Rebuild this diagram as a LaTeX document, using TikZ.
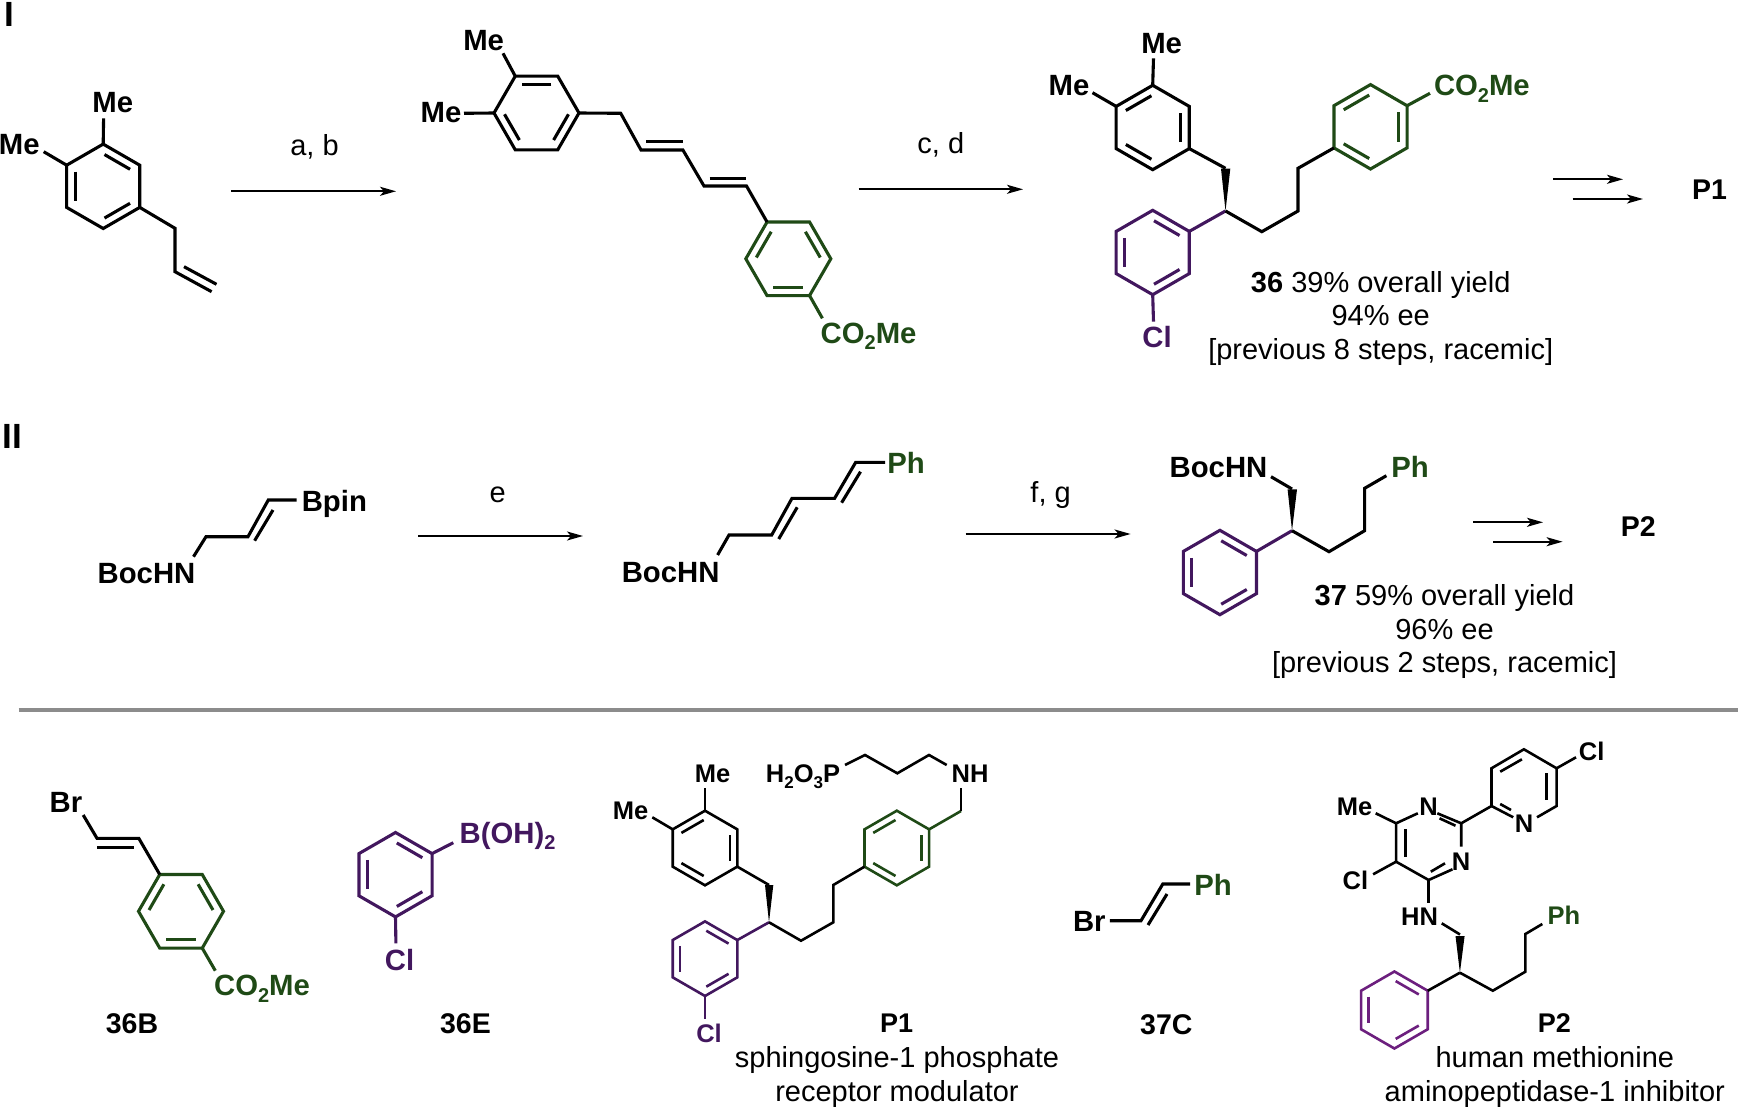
\documentclass[tikz,border=0pt]{standalone}
\usepackage{fontspec}
\setmainfont{Liberation Sans}
\usetikzlibrary{calc,arrows.meta}
\definecolor{leaf}{HTML}{1F4A16}
\definecolor{plum}{HTML}{42175E}
\definecolor{orchid}{HTML}{6C1F7E}
\tikzset{
  bond/.style = {line width = 3.1pt, line join = miter},
  thin bond/.style = {bond, line width = 2.6pt},
  rxn/.style = {line width = 1.9pt, -{Stealth[length = 16pt, width = 9pt, inset = 4pt]}},
  atom/.style = {inner sep = 0pt, font = \fontsize{29.3}{30}\selectfont\bfseries},
  small atom/.style = {inner sep = 0pt, font = \fontsize{25.5}{27}\selectfont\bfseries},
  cond/.style = {inner sep = 0pt, font = \fontsize{29}{33.4}\selectfont, align = center},
  tag/.style = {inner sep = 0pt, font = \fontsize{28.5}{30}\selectfont\bfseries}
}
\newcommand{\subnum}[2]{\raisebox{-.22em}{\fontsize{#1}{#1}\selectfont #2}}
% name, x, y, radius, start angle, bond style, double bonds
\newcommand{\hexring}[7]{
  \coordinate (#1-c) at (#2,#3);
  \foreach \i in {0,...,5}
    \coordinate (#1-\i) at ({#2+#4*cos(#5+60*\i)},{#3-#4*sin(#5+60*\i)});
  \draw[#6] (#1-0) -- (#1-1) -- (#1-2) -- (#1-3) -- (#1-4) -- (#1-5) -- cycle;
  \foreach \k in {#7}{
    \pgfmathtruncatemacro{\nxt}{mod(\k+1,6)}
    \draw[#6, shorten >= 1.5pt, shorten <= 1.5pt] ($(#1-\k)!.23!(#1-c)$) -- ($(#1-\nxt)!.23!(#1-c)$);
  }
}
\begin{document}
\begin{tikzpicture}[x = 1pt, y = -1pt]
\useasboundingbox (0,0) rectangle (1740,1107);

% scheme I
\node[inner sep = 0pt, font = \fontsize{35}{36}\selectfont\bfseries] (lone) at (9.5,14) {I};
\hexring{a}{103.2}{186.3}{42.2}{90}{bond}{1,3,5}
\node[atom] (ame1) at (112.8,102.7) {Me};
\node[atom] (ame2) at (19.2,144.3) {Me};
\coordinate (ab1) at (103.6,118.3);
\coordinate (ab2) at (43.7,151.7);
\draw[bond] (a-0) -- (ab1);
\draw[bond] (a-1) -- (ab2);
\draw[bond] (a-4) -- (175,228.3) coordinate (a7) -- (175,271.7) coordinate (a8) -- (211.6,291.7) coordinate (a9);
\draw[bond] (184,266.7) -- (216.5,284.3);

\coordinate (ar1s) at (231,191.3);
\coordinate (ar1e) at (396,191.3);
\draw[rxn] (ar1s) -- (ar1e);
\node[cond] (abl) at (314.5,146.7) {a, b};

\hexring{b}{536.5}{113}{42.5}{0}{bond}{1,3,5}
\node[atom] (bme1) at (483.6,40.7) {Me};
\node[atom] (bme2) at (441,112.7) {Me};
\coordinate (bb1) at (503,53.3);
\coordinate (bb2) at (464,113.3);
\draw[bond] (b-2) -- (bb1);
\draw[bond] (b-3) -- (bb2);
\hexring{bg}{788.3}{258.8}{42.5}{0}{bond, leaf}{0,2,4}
\draw[bond] (b-0) -- (620.7,113.3) coordinate (b7) -- (641,150) coordinate (b8) -- (682.9,150) coordinate (b9)
  -- (704,186) coordinate (b10) -- (746.5,186) coordinate (b11) -- (bg-2);
\draw[bond] (646,141.7) -- (682.9,141.7);
\draw[bond] (709.5,178.3) -- (745.8,178.3);
\node[atom, leaf, anchor = base west] (bco) at (820.5,343) {CO\subnum{20}{2}Me};
\coordinate (bb3) at (822.4,318.3);
\draw[bond, leaf] (bg-5) -- (bb3);

\coordinate (ar2s) at (858.6,189.3);
\coordinate (ar2e) at (1023,189.3);
\draw[rxn] (ar2s) -- (ar2e);
\node[cond] (cdl) at (940.8,145) {c, d};

\hexring{c}{1152.7}{127.5}{42.2}{90}{bond}{0,2,4}
\hexring{cp}{1152.7}{252.5}{42.2}{90}{bond, plum}{1,3,5}
\hexring{cg}{1370.5}{126.8}{42.2}{90}{bond, leaf}{0,2,4}
\node[atom] (cme1) at (1161.6,43.3) {Me};
\node[atom] (cme2) at (1069,85.7) {Me};
\coordinate (cb1) at (1153.5,58.3);
\coordinate (cb2) at (1092.5,92.7);
\draw[bond] (c-0) -- (cb1);
\draw[bond] (c-1) -- (cb2);
\coordinate (cst) at (1225.5,211);
\draw[bond] (c-4) -- (1225.5,168.3);
\fill (cst) -- (1221,168.6) -- (1230.3,168.6) -- cycle;
\draw[bond, plum] (cp-5) -- (cst);
\draw[bond] (cst) -- (1261.8,231.7) coordinate (c7) -- (1298,211) coordinate (c8) -- (1298,168.3) coordinate (c9) -- (cg-2);
\node[atom, leaf, anchor = base west] (cco) at (1433.8,96) {CO\subnum{20}{2}Me};
\coordinate (cb3) at (1430,93.3);
\draw[bond, leaf] (cg-5) -- (cb3);
\node[atom, plum] (ccl) at (1157,336.7) {Cl};
\coordinate (cb4) at (1153.5,321.7);
\draw[bond, plum] (cp-3) -- (cb4);
\node[cond] (cyield) at (1380.7,318.5) {{\bfseries 36} 39\% overall yield\\94\% ee\\{[}previous 8 steps, racemic]};

\coordinate (ar3s) at (1553,179.3);
\coordinate (ar3e) at (1623,179.3);
\coordinate (ar4s) at (1572.5,199);
\coordinate (ar4e) at (1643,199);
\draw[rxn] (ar3s) -- (ar3e);
\draw[rxn] (ar4s) -- (ar4e);
\node[tag] (pone) at (1709.5,190) {P1};

% scheme II
\node[inner sep = 0pt, font = \fontsize{35}{36}\selectfont\bfseries] (ltwo) at (12.2,436) {II};
\node[atom] (dn) at (146.5,573.3) {BocHN};
\node[atom, anchor = base west] (dbp) at (301.6,511) {Bpin};
\coordinate (db1) at (193.5,556.7);
\coordinate (db2) at (296.7,500);
\draw[bond] (db1) -- (206,536.7) coordinate (d1) -- (248,536.7) coordinate (d2) -- (268.3,500) coordinate (d3) -- (db2);
\draw[bond] (254.6,540.7) -- (273,510);

\coordinate (ar5s) at (418,536);
\coordinate (ar5e) at (583,536);
\draw[rxn] (ar5s) -- (ar5e);
\node[cond] (el) at (497.7,495) {e};

\node[atom] (en) at (670.6,572.3) {BocHN};
\node[atom, leaf] (eph) at (906,463) {Ph};
\coordinate (eb1) at (717.6,555);
\coordinate (eb2) at (885,462.3);
\draw[bond] (eb1) -- (729,535) coordinate (e1) -- (771.7,535) coordinate (e2) -- (792,498.3) coordinate (e3)
  -- (834.6,498.3) coordinate (e4) -- (855.7,462.3) coordinate (e5) -- (eb2);
\draw[bond] (778.7,539) -- (797.2,507.3);
\draw[bond] (841.6,502.7) -- (860.5,471.7);

\coordinate (ar6s) at (965.5,534);
\coordinate (ar6e) at (1130.6,534);
\draw[rxn] (ar6s) -- (ar6e);
\node[cond] (fgl) at (1050.6,495) {f, g};

\hexring{f}{1219.9}{572.5}{42.2}{90}{bond, plum}{1,3,5}
\node[atom] (fn) at (1218.5,467.7) {BocHN};
\node[atom, leaf] (fph) at (1410,467.3) {Ph};
\coordinate (fst) at (1292,530.7);
\coordinate (fb1) at (1271,476.7);
\coordinate (fb2) at (1386.4,475.7);
\draw[bond] (fb1) -- (1292,489);
\fill (fst) -- (1287.6,489.3) -- (1297,489.3) -- cycle;
\draw[bond, plum] (f-5) -- (fst);
\draw[bond] (fst) -- (1329,551.7) coordinate (f7) -- (1364.6,530.7) coordinate (f8) -- (1364.6,488.3) coordinate (f9) -- (fb2);
\node[cond] (fyield) at (1444.5,631.8) {{\bfseries 37} 59\% overall yield\\96\% ee\\{[}previous 2 steps, racemic]};

\coordinate (ar7s) at (1473.4,522.3);
\coordinate (ar7e) at (1543,522.3);
\coordinate (ar8s) at (1493,541.7);
\coordinate (ar8e) at (1562.6,541.7);
\draw[rxn] (ar7s) -- (ar7e);
\draw[rxn] (ar8s) -- (ar8e);
\node[tag] (ptwo) at (1638.4,526.7) {P2};

% divider
\coordinate (divl) at (18.5,710);
\coordinate (divr) at (1738,710);
\draw[line width = 3.2pt, black!45] (divl) -- (divr);

% 36B
\hexring{g}{181}{911.3}{42.5}{0}{bond, leaf}{0,2,4}
\node[atom] (gbr) at (66,802.7) {Br};
\coordinate (gb1) at (83.2,815);
\draw[bond] (gb1) -- (97,838.3) coordinate (g1) -- (138.8,838.3) coordinate (g2) -- (g-2);
\draw[bond] (97,847.3) -- (134,847.3);
\node[atom, leaf, anchor = base west] (gco) at (213.9,995.7) {CO\subnum{20}{2}Me};
\coordinate (gb2) at (215.3,970.7);
\draw[bond, leaf] (g-5) -- (gb2);
\node[tag] (gtag) at (132,1023.3) {36B};

% 36E
\hexring{h}{395.5}{874.7}{42.2}{90}{bond, plum}{1,3,5}
\node[atom, plum, anchor = base west] (hbo) at (459.5,843.3) {B(OH)\subnum{20}{2}};
\node[atom, plum] (hcl) at (399.6,960) {Cl};
\coordinate (hb1) at (453.3,842.7);
\coordinate (hb2) at (395.9,943.3);
\draw[bond, plum] (h-5) -- (hb1);
\draw[bond, plum] (h-3) -- (hb2);
\node[tag] (htag) at (465.5,1023.3) {36E};

% P1
\hexring{k}{705}{848}{37.3}{90}{thin bond}{0,2,4}
\hexring{kp}{705}{958.7}{37.3}{90}{thin bond, plum}{1,3,5}
\hexring{kg}{896.8}{848}{37.3}{90}{thin bond, leaf}{0,2,4}
\node[small atom] (kme1) at (712.7,774.3) {Me};
\node[small atom] (kme2) at (630.7,811) {Me};
\coordinate (kb1) at (705,788.3);
\coordinate (kb2) at (652.3,817.3);
\draw[thin bond] (k-0) -- (kb1);
\draw[thin bond] (k-1) -- (kb2);
\coordinate (kst) at (769,922.3);
\draw[thin bond] (k-4) -- (769,885);
\fill (kst) -- (765,885) -- (773.3,885) -- cycle;
\draw[thin bond, plum] (kp-5) -- (kst);
\draw[thin bond] (kst) -- (801,940.7) coordinate (k7) -- (833.3,922.3) coordinate (k8) -- (833.3,885) coordinate (k9) -- (kg-2);
\draw[thin bond, leaf] (kg-5) -- (961,811) coordinate (k10);
\node[small atom] (knh) at (970,774) {NH};
\coordinate (kb3) at (961,788.3);
\draw[thin bond] (k10) -- (kb3);
\node[small atom, anchor = base west] (kpo) at (765.7,782.7) {H\subnum{17}{2}O\subnum{17}{3}P};
\coordinate (kb4) at (946.7,765);
\coordinate (kb5) at (845,765);
\draw[thin bond] (kb4) -- (929,755) coordinate (k11) -- (897.3,773.3) coordinate (k12) -- (865,755) coordinate (k13) -- (kb5);
\node[small atom, plum] (kcl) at (709,1033.3) {Cl};
\coordinate (kb6) at (705,1019.3);
\draw[thin bond, plum] (kp-3) -- (kb6);
\node[tag, font = \fontsize{27}{30}\selectfont\bfseries] (ktag) at (896.7,1023.3) {P1};
\node[cond] (kname) at (897,1077) {sphingosine-1 phosphate\\receptor modulator};

% 37C
\node[atom] (mbr) at (1089.3,921.7) {Br};
\node[atom, leaf] (mph) at (1213,884.5) {Ph};
\coordinate (mb1) at (1109.9,920.7);
\coordinate (mb2) at (1190,884);
\draw[bond] (mb1) -- (1141,920.7) coordinate (m1) -- (1162.8,884) coordinate (m2) -- (mb2);
\draw[bond] (1148,925) -- (1167,894);
\node[tag] (mtag) at (1166.3,1025) {37C};

% P2
\coordinate (nc1) at (1396.1,823.3);
\coordinate (nc2) at (1461.2,823.3);
\coordinate (nc3) at (1428.6,880);
\coordinate (nc4) at (1396.1,861.7);
\node[small atom] (nn1) at (1428.6,806.7) {N};
\node[small atom] (nn2) at (1461,861.7) {N};
\coordinate (nb1) at (1417.8,813.3);
\coordinate (nb2) at (1437.3,813.3);
\coordinate (nb3) at (1461.2,846.7);
\coordinate (nb4) at (1452.5,869.3);
\draw[thin bond] (nc1) -- (nb1);
\draw[thin bond] (nb2) -- (nc2) -- (nb3);
\draw[thin bond] (nb4) -- (nc3) -- (nc4) -- (nc1);
\draw[thin bond] (1405.7,829.3) -- (1405.7,856.7);
\draw[thin bond] (1439.5,818.3) -- (1455.5,825.7);
\draw[thin bond] (1430.8,871.7) -- (1445,863.3);
\node[small atom] (nme) at (1354.5,806.7) {Me};
\node[small atom] (ncl) at (1355.4,880) {Cl};
\coordinate (nb5) at (1375.7,813.3);
\coordinate (nb6) at (1373.1,874.3);
\draw[thin bond] (nc1) -- (nb5);
\draw[thin bond] (nc4) -- (nb6);
\node[small atom] (nhn) at (1419.5,916.7) {HN};
\coordinate (nb7) at (1428.6,902.7);
\draw[thin bond] (nc3) -- (nb7);
\coordinate (nst) at (1459.9,972.7);
\coordinate (nb8) at (1441.7,923.3);
\coordinate (nb9) at (1542.3,924);
\draw[thin bond] (nb8) -- (1460,934.5);
\fill (nst) -- (1455.5,936) -- (1464.6,936) -- cycle;
\draw[thin bond] (nst) -- (1492.8,990.7) coordinate (n7) -- (1525.4,971.7) coordinate (n8) -- (1525.4,934) coordinate (n9) -- (nb9);
\node[small atom, leaf] (nph) at (1564,915) {Ph};
\hexring{np}{1394.4}{1010}{38.5}{90}{thin bond, orchid}{1,3,5}
\draw[thin bond] (np-5) -- (nst);
% pyridine
\coordinate (pc2) at (1491.5,806);
\coordinate (pc3) at (1491.5,768.3);
\coordinate (pc4) at (1523.9,749.3);
\coordinate (pc5) at (1556.6,768.3);
\coordinate (pc6) at (1556.6,806);
\node[small atom] (pn) at (1524,824) {N};
\coordinate (pb1) at (1537,817.3);
\coordinate (pb2) at (1513.2,817.3);
\draw[thin bond] (nc2) -- (pc2);
\draw[thin bond] (pb2) -- (pc2) -- (pc3) -- (pc4) -- (pc5) -- (pc6) -- (pb1);
\draw[thin bond] (1500.2,771.7) -- (1521.9,759.3);
\draw[thin bond] (1546.7,773.3) -- (1546.7,800);
\draw[thin bond] (1500.2,804) -- (1511,810);
\node[small atom] (pcl) at (1591.7,751.7) {Cl};
\coordinate (pb3) at (1576,757.3);
\draw[thin bond] (pc5) -- (pb3);
\node[tag, font = \fontsize{27}{30}\selectfont\bfseries] (ntag) at (1554.4,1023.3) {P2};
\node[cond] (nname) at (1554.8,1077) {human methionine\\aminopeptidase-1 inhibitor};
\end{tikzpicture}
\end{document}
